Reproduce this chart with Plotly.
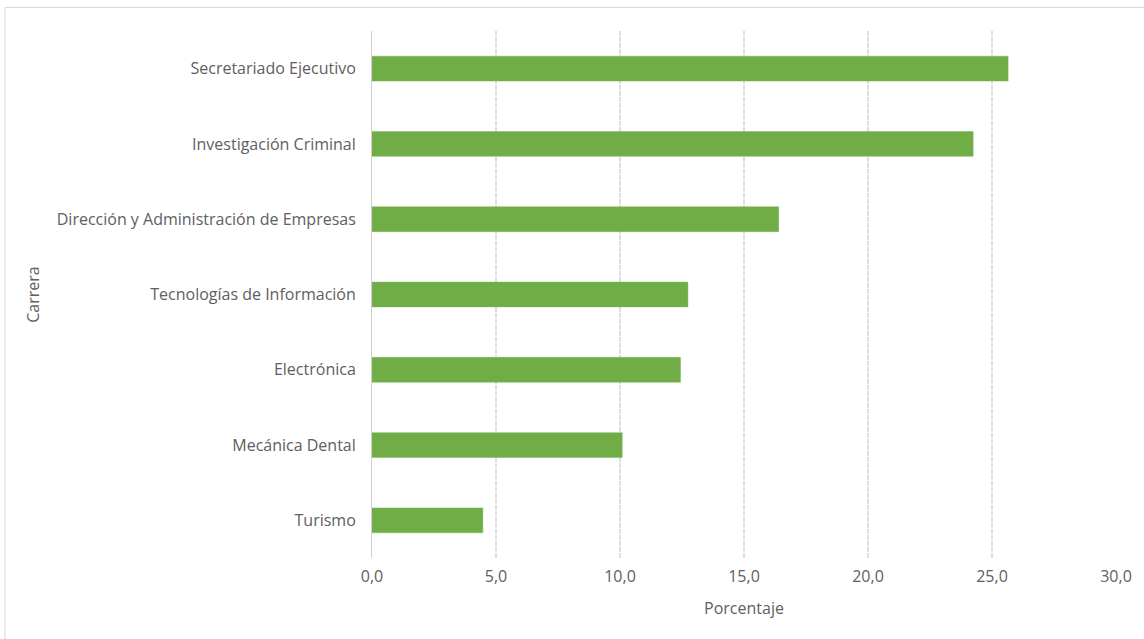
import plotly.graph_objects as go

categories = ["Turismo", "Mecánica Dental", "Electrónica", "Tecnologías de Información",
              "Dirección y Administración de Empresas", "Investigación Criminal",
              "Secretariado Ejecutivo"]
values = [4.47, 10.09, 12.44, 12.74, 16.4, 24.24, 25.65]
tick_vals = [0, 5, 10, 15, 20, 25, 30]
tick_text = ["0,0", "5,0", "10,0", "15,0", "20,0", "25,0", "30,0"]

FONT = "Open Sans, Liberation Sans, sans-serif"
GRAY = "#606060"

fig = go.Figure(go.Bar(
    x=values, y=categories, orientation="h",
    marker=dict(color="#70AD47", line=dict(color="#7DB85A", width=0.5)),
))

fig.update_layout(
    width=1144, height=639,
    margin=dict(l=372, r=28, t=31, b=81),
    paper_bgcolor="white", plot_bgcolor="white",
    bargap=0.67,
    showlegend=False,
    font=dict(family=FONT, size=16, color=GRAY),
    xaxis=dict(
        range=[0, 30], tickvals=tick_vals, ticktext=tick_text,
        showgrid=True, gridcolor="#dedede", griddash="5px,1px", gridwidth=1.5,
        zeroline=False, showline=False, ticks="",
        ticklabelstandoff=7,
        tickfont=dict(size=16, color=GRAY),
        title=dict(text="Porcentaje", font=dict(size=16, color=GRAY), standoff=16),
    ),
    yaxis=dict(
        showgrid=False, zeroline=False,
        showline=True, linecolor="#d0d0d0", linewidth=1,
        ticks="", ticklabelstandoff=12,
        tickfont=dict(size=16, color=GRAY),
        title=dict(text="Carrera", font=dict(size=16, color=GRAY), standoff=13),
    ),
    shapes=[
        dict(type="line", xref="paper", yref="paper", x0=-0.4933, x1=1.04, y0=1.0445, y1=1.0445,
             line=dict(color="#d9d9d9", width=1)),
        dict(type="line", xref="paper", yref="paper", x0=-0.4933, x1=-0.4933, y0=-0.16, y1=1.0445,
             line=dict(color="#d9d9d9", width=1)),
    ],
)

fig.write_html("out.html", config={"displayModeBar": False},
               post_script="document.body.style.margin='0';")
